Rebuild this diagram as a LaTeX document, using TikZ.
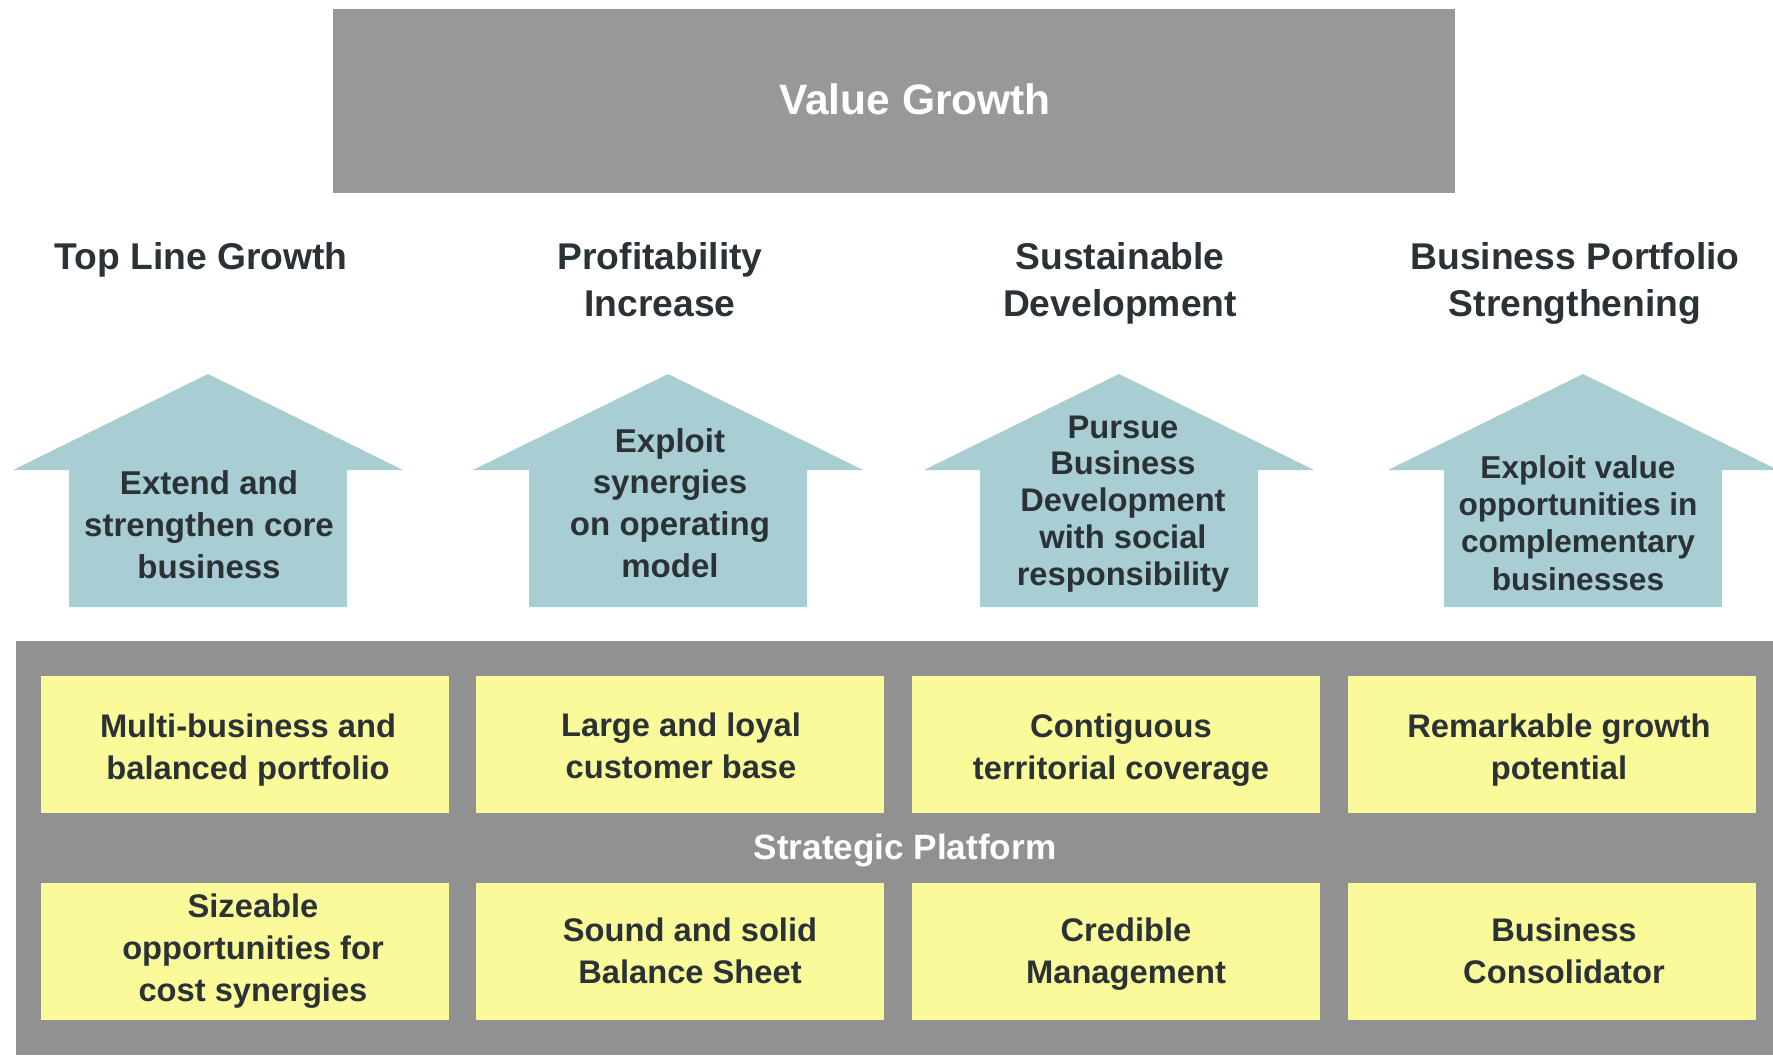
\documentclass[tikz,border=0pt]{standalone}
\usepackage{fontspec}
\setmainfont{Liberation Sans}
\usepackage{tikz}
\usetikzlibrary{positioning}

\definecolor{topgray}{RGB}{152,152,152}
\definecolor{basegray}{RGB}{145,145,145}
\definecolor{arrowteal}{RGB}{168,205,210}
\definecolor{padyellow}{RGB}{250,250,155}
\definecolor{inkdark}{RGB}{42,50,54}

\begin{document}
\begin{tikzpicture}[x=0.1mm,y=-0.1mm,
  heading/.style={font=\fontsize{10.6}{13.4}\selectfont\bfseries,text=inkdark,align=center},
  goal/.style={font=\fontsize{9.4}{11.9}\selectfont\bfseries,text=inkdark,align=center},
  pad/.style={fill=padyellow,minimum width=40.8cm/10,minimum height=13.7cm/10,inner sep=0pt},
  padtext/.style={font=\fontsize{9.3}{11.9}\selectfont\bfseries,text=inkdark,align=center}]
  \useasboundingbox (0,0) rectangle (1773,1055);

  \node[fill=topgray,minimum width=112.2cm/10,minimum height=18.4cm/10] (value) at (894,101) {};
  \node[font=\fontsize{12.1}{14}\selectfont\bfseries,text=white] (valuelbl) at (915,99) {Value Growth};

  \node[heading] (topline) at (201,260) {Top Line Growth};
  \node[heading] (profit) at (660,280) {Profitability\\Increase};
  \node[heading] (sustain) at (1120,283) {Sustainable\\Development};
  \node[heading] (portfolio) at (1575,283) {Business Portfolio\\Strengthening};

  \foreach \cx in {208,668,1119,1583}
    \fill[arrowteal] (\cx,374) -- (\cx+195,470) -- (\cx+139,470) -- (\cx+139,607)
      -- (\cx-139,607) -- (\cx-139,470) -- (\cx-195,470) -- cycle;
  \node[goal] (extend) at (209,525) {Extend and\\strengthen core\\business};
  \node[goal] (exploit) at (670,503) {Exploit\\synergies\\on operating\\model};
  \node[goal,font=\fontsize{9.3}{10.5}\selectfont\bfseries] (pursue) at (1123,504)
    {Pursue\\Business\\Development\\with social\\responsibility};
  \node[goal,font=\fontsize{9}{10.6}\selectfont\bfseries] (valueopp) at (1578,523)
    {Exploit value\\opportunities in\\complementary\\businesses};

  \fill[basegray] (16,641) rectangle (1773,1055);
  \node[pad] (multi) at (245,744) {};
  \node[pad] (loyal) at (680,744) {};
  \node[pad] (contig) at (1116,744) {};
  \node[pad] (remark) at (1552,744) {};
  \node[pad] (sizeable) at (245,951) {};
  \node[pad] (sound) at (680,951) {};
  \node[pad] (credible) at (1116,951) {};
  \node[pad] (consol) at (1552,951) {};

  \node[padtext] (multilbl) at (248,750) {Multi-business and\\balanced portfolio};
  \node[padtext] (loyallbl) at (681,746) {Large and loyal\\customer base};
  \node[padtext] (contiglbl) at (1121,750) {Contiguous\\territorial coverage};
  \node[padtext] (remarklbl) at (1559,750) {Remarkable growth\\potential};
  \node[font=\fontsize{10}{12}\selectfont\bfseries,text=white] (platform) at (905,850) {Strategic Platform};
  \node[padtext] (sizeablelbl) at (253,951) {Sizeable\\opportunities for\\cost synergies};
  \node[padtext] (soundlbl) at (690,951) {Sound and solid\\Balance Sheet};
  \node[padtext] (crediblelbl) at (1126,954) {Credible\\Management};
  \node[padtext] (consollbl) at (1564,951) {Business\\Consolidator};
\end{tikzpicture}
\end{document}
